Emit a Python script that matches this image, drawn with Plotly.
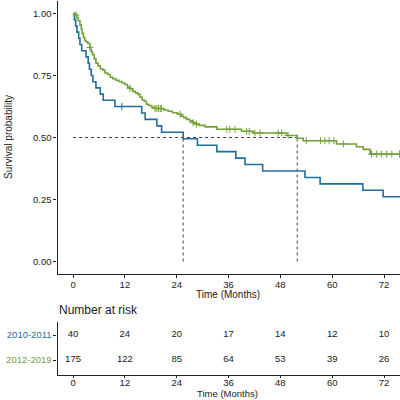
import numpy as np
import plotly.graph_objects as go

# ---------------- data ----------------
blue_name = "2010-2011"
green_name = "2012-2019"
blue_color = "#1f6f9c"
green_color = "#74a23a"

blue_t = [0, 0.3, 0.6, 0.9, 1.3, 1.6, 2.0, 3.0, 3.5, 3.8, 4.2, 4.6, 5.3, 6.3, 7.0, 9.7,
          15.9, 16.7, 19.4, 20.5, 25.5, 28.8, 33.3, 37.7, 39.8, 43.9, 53.7, 57.2, 67.1, 71.8, 76.0]
blue_s = [1.0, 0.975, 0.95, 0.925, 0.90, 0.875, 0.85, 0.825, 0.80, 0.775, 0.75, 0.725, 0.70, 0.675, 0.65, 0.625,
          0.599, 0.573, 0.547, 0.521, 0.495, 0.469, 0.443, 0.417, 0.391, 0.365, 0.339, 0.313, 0.287, 0.261, 0.261]
blue_censor = [11.3]

green_t = [0, 0.5, 0.9, 1.2, 1.6, 1.9, 2.1, 2.4, 2.7, 3.0, 3.4, 3.9, 4.2, 4.5, 4.9, 5.3, 5.8, 6.3, 6.9, 7.4,
           8.0, 8.6, 9.2, 9.9, 10.6, 11.3, 12.0, 12.6, 13.2, 13.8, 14.4, 15.0, 15.5, 16.0, 16.5, 17.0, 17.5,
           18.2, 18.8, 21.0, 22.0, 23.0, 24.2, 25.0, 25.6, 26.3, 27.0, 27.6, 28.3, 29.2, 30.6, 33.3, 39.0,
           41.7, 49.5, 51.9, 53.3, 61.0, 65.6, 67.2, 68.8, 76.0]
green_s = [1.0, 0.994, 0.983, 0.971, 0.954, 0.937, 0.92, 0.903, 0.891, 0.886, 0.88, 0.863, 0.846, 0.834, 0.817,
           0.80, 0.789, 0.777, 0.771, 0.76, 0.754, 0.743, 0.737, 0.731, 0.726, 0.72, 0.714, 0.703, 0.697, 0.686,
           0.68, 0.674, 0.663, 0.651, 0.646, 0.634, 0.629, 0.623, 0.617, 0.611, 0.606, 0.60, 0.594, 0.586, 0.58,
           0.573, 0.567, 0.56, 0.554, 0.549, 0.543, 0.533, 0.525, 0.518, 0.508, 0.497, 0.487, 0.474, 0.463,
           0.452, 0.433, 0.433]
green_censor = [0.7, 3.9, 13.2, 19.0, 19.4, 19.8, 20.2, 20.5, 24.8, 27.8, 28.6, 35.6, 36.3, 37.5, 40.2, 40.8,
                42.1, 43.3, 47.5, 48.3, 49.8, 54.0, 57.3, 58.3, 59.3, 60.4, 62.6, 69.1, 70.3, 71.4, 72.6, 73.8, 75.6]

blue_median = 25.5
green_median = 51.9

risk_times = [0, 12, 24, 36, 48, 60, 72]
blue_risk = [40, 24, 20, 17, 14, 12, 10]
green_risk = [175, 122, 85, 64, 53, 39, 26]

y_ticks = [0, 0.25, 0.5, 0.75, 1.0]
x_ticks = [0, 12, 24, 36, 48, 60, 72]


def surv_at(times, surv, c):
    i = np.searchsorted(np.array(times), c, side="right") - 1
    return surv[i]


FONT = "Liberation Sans, Arial, sans-serif"
TXT = "#1a1a1a"
W = H = 400.0

fig = go.Figure()

# median reference lines
dash = dict(color="#444444", width=1, dash="3px,3px")
fig.add_trace(go.Scatter(x=[0, green_median], y=[0.5, 0.5], mode="lines", line=dash,
                         xaxis="x", yaxis="y", showlegend=False, hoverinfo="skip"))
for m in [blue_median, green_median]:
    fig.add_trace(go.Scatter(x=[m, m], y=[0, 0.5], mode="lines", line=dash,
                             xaxis="x", yaxis="y", showlegend=False, hoverinfo="skip"))

# KM curves
for t, s, c, col, nm in [(blue_t, blue_s, blue_censor, blue_color, blue_name),
                         (green_t, green_s, green_censor, green_color, green_name)]:
    fig.add_trace(go.Scatter(x=t, y=s, mode="lines", line=dict(color=col, width=1.6, shape="hv"),
                             name=nm, xaxis="x", yaxis="y", showlegend=False))
    fig.add_trace(go.Scatter(x=c, y=[surv_at(t, s, v) for v in c], mode="markers",
                             marker=dict(symbol="cross-thin", size=5, line=dict(color=col, width=1)),
                             xaxis="x", yaxis="y", showlegend=False, hoverinfo="skip"))

# risk table numbers
fig.add_trace(go.Scatter(x=risk_times, y=[1] * len(risk_times), mode="text",
                         text=[str(v) for v in blue_risk], textfont=dict(family=FONT, size=9.5, color=TXT),
                         xaxis="x2", yaxis="y2", showlegend=False, hoverinfo="skip"))
fig.add_trace(go.Scatter(x=risk_times, y=[0] * len(risk_times), mode="text",
                         text=[str(v) for v in green_risk], textfont=dict(family=FONT, size=9.5, color=TXT),
                         xaxis="x2", yaxis="y2", showlegend=False, hoverinfo="skip"))

x_left = 57.5
xr = [-3.6, 75.7]
axis_common = dict(showline=True, linecolor="#222222", linewidth=1.1, ticks="outside",
                   tickwidth=1, tickcolor="#222222", showgrid=False, zeroline=False,
                   tickfont=dict(family=FONT, size=9.5, color=TXT), mirror=False, automargin=False)

fig.update_layout(
    width=400, height=400,
    margin=dict(l=0, r=0, t=0, b=0, autoexpand=False),
    paper_bgcolor="white", plot_bgcolor="white",
    xaxis=dict(domain=[x_left / W, 1], range=xr, tickvals=x_ticks, anchor="y", ticklen=3,
               ticklabelstandoff=-1, **axis_common),
    yaxis=dict(domain=[1 - 273.9 / H, 1 - 1.1 / H], range=[-0.05, 1.05], tickvals=y_ticks,
               tickformat=".2f", anchor="x", ticklen=3, **axis_common),
    xaxis2=dict(domain=[x_left / W, 1], range=xr, tickvals=x_ticks, anchor="y2", ticklen=2,
                ticklabelstandoff=-3, **axis_common),
    yaxis2=dict(domain=[1 - 375 / H, 1 - 321.5 / H], range=[-0.6, 1.54], tickvals=[1, 0], ticklen=3,
                ticktext=[f"<span style='color:{blue_color}'>{blue_name}</span>",
                          f"<span style='color:{green_color}'>{green_name}</span>"],
                anchor="x2", **axis_common),
    annotations=[
        dict(text="Survival probability", x=8 / W, y=1 - 137 / H, xref="paper", yref="paper",
             textangle=-90, showarrow=False, font=dict(family=FONT, size=10, color=TXT),
             xanchor="center", yanchor="middle"),
        dict(text="Time (Months)", x=228 / W, y=1 - 294 / H, xref="paper", yref="paper",
             showarrow=False, font=dict(family=FONT, size=10, color=TXT),
             xanchor="center", yanchor="middle"),
        dict(text="Time (Months)", x=228 / W, y=0, xref="paper", yref="paper",
             showarrow=False, font=dict(family=FONT, size=9.5, color=TXT),
             xanchor="center", yanchor="bottom", borderpad=0),
        dict(text="Number at risk", x=57 / W, y=1 - 310 / H, xref="paper", yref="paper",
             showarrow=False, font=dict(family=FONT, size=12, color=TXT),
             xanchor="left", yanchor="middle"),
    ],
)

fig.write_html("out.html", config={"displayModeBar": False},
               post_script="document.body.style.margin='0';document.body.style.overflow='hidden';")
